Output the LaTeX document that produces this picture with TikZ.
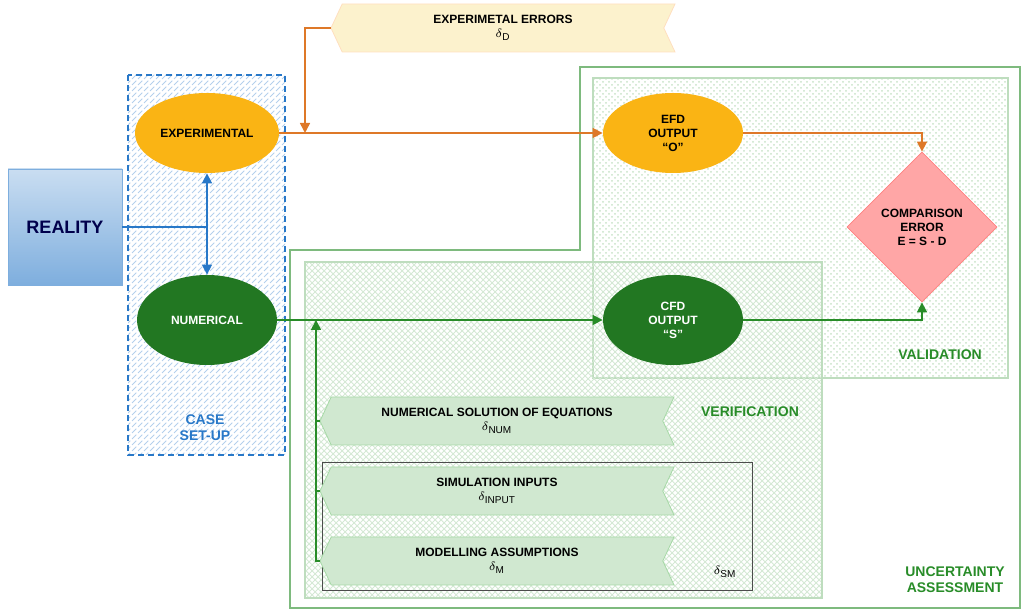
\documentclass[tikz,border=0pt]{standalone}
\usepackage{fontspec}
\setmainfont{Liberation Sans}
\usetikzlibrary{shapes.geometric,shapes.symbols,patterns,arrows.meta}
\definecolor{orangeline}{RGB}{222,120,40}
\definecolor{greenline}{RGB}{40,140,40}
\definecolor{blueline}{RGB}{40,120,200}
\definecolor{flaggreen}{RGB}{208,232,208}
\definecolor{flagyellow}{RGB}{252,242,205}
\definecolor{ovalorange}{RGB}{250,180,20}
\begin{document}
\begin{tikzpicture}[x=0.5pt,y=-0.5pt,font=\bfseries\fontsize{6}{7}\selectfont,
  oval/.style={ellipse,draw=none,minimum width=#1,inner sep=1pt,align=center},
  flag/.style={signal,signal to=west,signal from=east,signal pointer angle=130,
    minimum width=177pt,minimum height=24pt,inner sep=1pt,align=center,fill=flaggreen,draw=green!40!gray!50},
  lab/.style={align=center,font=\bfseries\fontsize{7}{8}\selectfont},
  >={Triangle[width=5pt,length=5pt]}]
\useasboundingbox (0,0) rectangle (1024,613);

% boxes
\draw[blueline,densely dashed,thick,pattern=north east lines,pattern color=blueline!35] (128,75) rectangle (285,455);
\draw[greenline!60,line width=1.2pt] (290,250) -- (580,250) -- (580,67) -- (1020,67) -- (1020,608) -- (290,608) -- cycle;
\draw[greenline!30,thick,pattern=crosshatch dots,pattern color=greenline!25] (593,78) rectangle (1008,378);
\draw[greenline!30,thick,pattern=crosshatch,pattern color=greenline!20] (305,262) rectangle (822,598);
\draw[black!70] (322,462) rectangle (752,590);

% nodes
\node[draw=blueline!60,top color=blueline!25,bottom color=blueline!60,minimum width=57pt,minimum height=58pt,font=\bfseries\fontsize{9}{10}\selectfont,text=blue!30!black] (reality) at (65,227) {REALITY};
\node[oval=72pt,minimum height=40pt,fill=ovalorange] (exp) at (207,133) {EXPERIMENTAL};
\node[oval=70pt,minimum height=45pt,fill=greenline!85!black,text=white] (num) at (207,320) {NUMERICAL};
\node[oval=70pt,minimum height=40pt,fill=ovalorange] (efd) at (673,133) {EFD\\OUTPUT\\``O''};
\node[oval=70pt,minimum height=45pt,fill=greenline!85!black,text=white] (cfd) at (673,320) {CFD\\OUTPUT\\``S''};
\node[diamond,fill=red!35,draw=red!50,minimum width=75pt,minimum height=75pt,inner sep=0pt,align=center] (comp) at (922,227) {COMPARISON\\ERROR\\E = S - D};
\node[flag,fill=flagyellow,draw=orange!25,minimum width=172pt] (experr) at (503,28) {EXPERIMETAL ERRORS\\$\delta_\mathrm{D}$};
\node[flag] (numsol) at (497,421) {NUMERICAL SOLUTION OF EQUATIONS\\$\delta_\mathrm{NUM}$};
\node[flag] (siminp) at (497,491) {SIMULATION INPUTS\\$\delta_\mathrm{INPUT}$};
\node[flag] (model) at (497,561) {MODELLING ASSUMPTIONS\\$\delta_\mathrm{M}$};

% labels
\node[lab,text=blueline] (casel) at (205,428) {CASE\\SET-UP};
\node[lab,text=greenline] (valil) at (940,355) {VALIDATION};
\node[lab,text=greenline] (veril) at (750,412) {VERIFICATION};
\node[lab,text=greenline] (uncl) at (955,580) {UNCERTAINTY\\ASSESSMENT};
\node (sml) at (725,572) {$\delta_\mathrm{SM}$};

% connectors
\coordinate (oj) at (305,133);
\coordinate (gj) at (316,320);
\coordinate (rj) at (exp.south |- reality.east);
\draw[blueline,thick,<->] (exp.south) -- (num.north);
\draw[blueline,thick] (reality.east) -- (rj);
\draw[orangeline,thick,->] (exp.east) -- (efd.west);
\draw[orangeline,thick,->] (experr.west) -| (oj);
\draw[orangeline,thick,->] (efd.east) -| (comp.north);
\draw[greenline,thick,->] (num.east) -- (cfd.west);
\draw[greenline,thick,->] (cfd.east) -| (comp.south);
\draw[greenline,thick,->] (model.west) -| (gj);
\draw[greenline,thick] (numsol.west) -- (numsol.west -| gj);
\draw[greenline,thick] (siminp.west) -- (siminp.west -| gj);
\end{tikzpicture}
\end{document}
